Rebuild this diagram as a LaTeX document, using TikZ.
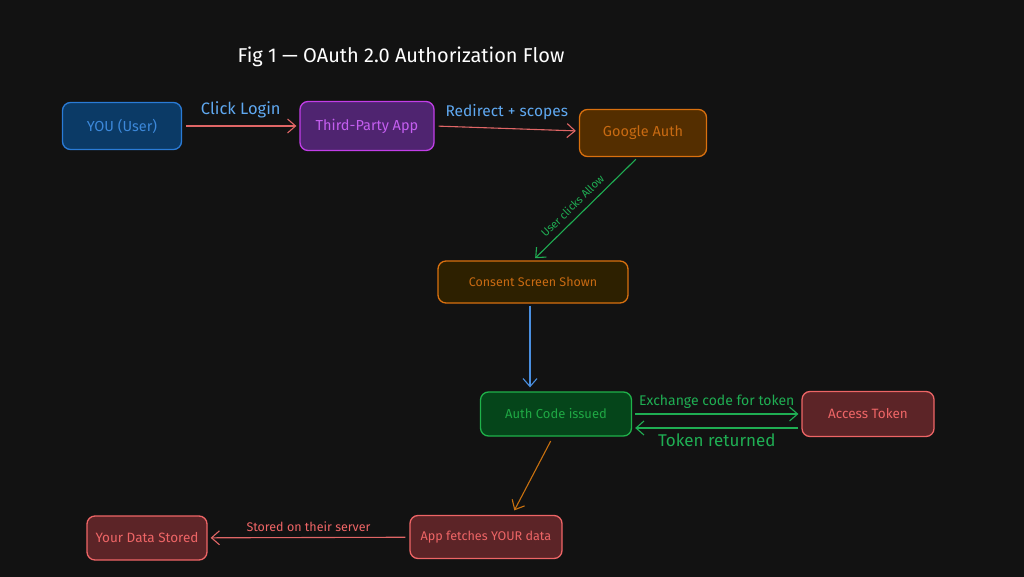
\documentclass[tikz,border=0pt]{standalone}
\usepackage{fontspec}
\setmainfont{Fira Sans}
\usetikzlibrary{arrows.meta,positioning}

\definecolor{bgc}{HTML}{121212}
\definecolor{userF}{HTML}{0B3A66}
\definecolor{userD}{HTML}{2A7BD6}
\definecolor{userT}{HTML}{3C88DA}
\definecolor{appF}{HTML}{4F2470}
\definecolor{appD}{HTML}{C23EE8}
\definecolor{appT}{HTML}{C45EF0}
\definecolor{ggF}{HTML}{542E00}
\definecolor{ggD}{HTML}{D9700F}
\definecolor{ggT}{HTML}{C86A12}
\definecolor{csF}{HTML}{2D2000}
\definecolor{codeF}{HTML}{05451A}
\definecolor{codeD}{HTML}{1FB24A}
\definecolor{codeT}{HTML}{1FA844}
\definecolor{redF}{HTML}{5C2427}
\definecolor{redD}{HTML}{EE6566}
\definecolor{edgeR}{HTML}{E06666}
\definecolor{lblB}{HTML}{5FA8F0}
\definecolor{edgeG}{HTML}{1FAE53}
\definecolor{edgeB}{HTML}{4A8FE0}
\definecolor{edgeO}{HTML}{C8700F}

\newcommand{\fs}[1]{\fontsize{#1}{#1}\selectfont}

\begin{document}
\begin{tikzpicture}[x=1pt,y=-1pt,->,>={Straight Barb[length=8pt,width=14pt]},line width=1.1pt]
  \tikzstyle{box}=[draw,rounded corners=8pt,line width=1.3pt,inner sep=0pt,minimum height=46pt]

  \fill[-,bgc] (0,0) rectangle (1024,577);
  \useasboundingbox (0,0) rectangle (1024,577);

  \node[text=white,font=\fs{20}] (title) at (401,57) {Fig 1 — OAuth 2.0 Authorization Flow};

  \node[box,fill=userF,draw=userD,text=userT,minimum width=119pt,minimum height=47pt,font=\fs{14.5}] (you) at (122,126) {YOU (User)};
  \node[box,fill=appF,draw=appD,text=appT,minimum width=134pt,minimum height=49pt,font=\fs{14.5}] (app) at (367,126) {Third-Party App};
  \node[box,fill=ggF,draw=ggD,text=ggT,minimum width=127pt,minimum height=47pt,font=\fs{14.5}] (google) at (643,133) {Google Auth};
  \node[box,fill=csF,draw=ggD,text=ggT,minimum width=190pt,minimum height=42pt,font=\fs{12.5}] (consent) at (533,282) {Consent Screen Shown};
  \node[box,fill=codeF,draw=codeD,text=codeT,minimum width=151pt,minimum height=44pt,font=\fs{13}] (code) at (556,414) {Auth Code issued};
  \node[box,fill=redF,draw=redD,text=redD,minimum width=132pt,minimum height=45pt,font=\fs{13.5}] (token) at (868,414) {Access Token};
  \node[box,fill=redF,draw=redD,text=redD,minimum width=152pt,minimum height=43pt,font=\fs{12.6}] (fetch) at (486,537) {App fetches YOUR data};
  \node[box,fill=redF,draw=redD,text=redD,minimum width=120pt,minimum height=44pt,font=\fs{13.5}] (stored) at (147,538) {Your Data Stored};

  \path[edgeR,shorten <=4pt,shorten >=3pt]
  (you) edge node[above=4pt,text=lblB,font=\fs{16.5}] {Click Login} (app)
  (app.east) edge node[above=5pt,text=lblB,font=\fs{15.5}] {Redirect + scopes} ([yshift=2pt]google.west)
  (fetch) edge node[above=2pt,text=redD,font=\fs{12.5}] {Stored on their server} (stored);

  \path[edgeG,shorten <=3pt,shorten >=3pt]
  ([xshift=-5pt]google.south) edge node[sloped,above=3pt,pos=0.55,text=edgeG,font=\fs{11}] {User clicks Allow} (consent.north)
  (code) edge node[above=2pt,text=edgeG,font=\fs{14}] {Exchange code for token} (token)
  ([yshift=-14pt]token.west) edge node[below=2pt,text=edgeG,font=\fs{17}] {Token returned} ([yshift=-14pt]code.east);

  \path[edgeB,shorten <=2pt,shorten >=4pt]
  ([xshift=-3pt]consent.south) edge ([xshift=-3pt]consent.south |- code.north);

  \path[edgeO,shorten <=5pt,shorten >=5pt]
  ([xshift=-3pt]code.south) edge ([xshift=26pt]fetch.north);
\end{tikzpicture}
\end{document}
